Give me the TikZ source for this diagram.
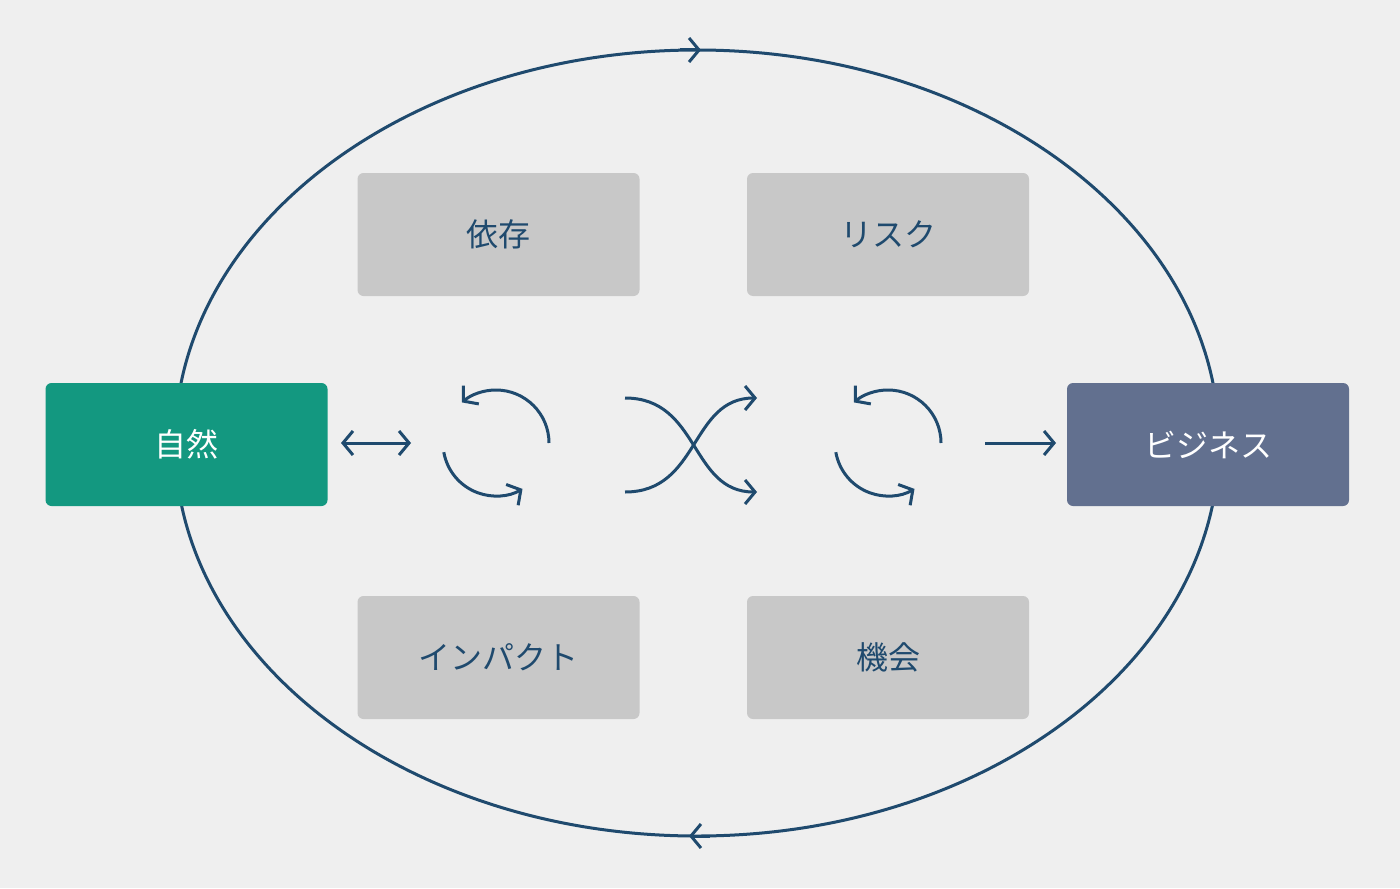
\documentclass[tikz,border=0pt]{standalone}
\usepackage{fontspec}
\setmainfont{Noto Sans CJK JP}
\usetikzlibrary{arrows.meta}
\definecolor{bg}{HTML}{EFEFEF}
\definecolor{ln}{HTML}{1F4A6E}
\definecolor{gbox}{HTML}{C8C8C8}
\definecolor{teal}{HTML}{139880}
\definecolor{slate}{HTML}{62708F}
\begin{document}
\begin{tikzpicture}[x=0.5pt,y=-0.5pt,
  box/.style={rectangle,rounded corners=3pt,minimum width=141pt,minimum height=61.5pt,inner sep=0pt,font=\fontsize{16}{18}\selectfont},
  gb/.style={box,fill=gbox,text=ln},
  line/.style={draw=ln,line width=1.5pt},
  tip/.style={-{Straight Barb[length=5pt,width=12pt]}}]
\fill[bg] (0,0) rectangle (1400,888);
\useasboundingbox (0,0) rectangle (1400,888);
\draw[line] (697,443) ellipse [x radius=522, y radius=393];
\coordinate (t0) at (680,50); \coordinate (t1) at (701,50);
\draw[line,tip] (t0) -- (t1);
\coordinate (b0) at (710,836); \coordinate (b1) at (689,836);
\draw[line,tip] (b0) -- (b1);
\node[box,fill=teal,text=white] (n) at (186.5,444.5) {自然};
\node[box,fill=slate,text=white] (b) at (1208,444.5) {ビジネス};
\node[gb] (d) at (498.5,234.5) {依存};
\node[gb] (r) at (888,234.5) {リスク};
\node[gb] (i) at (498.5,657.5) {インパクト};
\node[gb] (o) at (888,657.5) {機会};
\coordinate (a0) at (341,443); \coordinate (a1) at (411,443);
\draw[line,{Straight Barb[length=5pt,width=12pt]}-{Straight Barb[length=5pt,width=12pt]}] (a0) -- (a1);
\coordinate (c0) at (985,443); \coordinate (c1) at (1056,443);
\draw[line,tip] (c0) -- (c1);
\foreach \cx/\nm in {496/L,888/R}{
  \coordinate (\nm s1) at (\cx+53,443);
  \draw[line,tip] (\nm s1) arc[start angle=0,end angle=-130,radius=53];
  \coordinate (\nm s2) at ({\cx+53*cos(190)},{443-53*sin(190)});
  \draw[line,tip] (\nm s2) arc[start angle=-190,end angle=-300,radius=53];
}
\coordinate (x0) at (625,398); \coordinate (x1) at (757,492);
\coordinate (y0) at (625,492); \coordinate (y1) at (757,398);
\draw[line,tip] (x0) .. controls (700,398) and (690,492) .. (x1);
\draw[line,tip] (y0) .. controls (700,492) and (690,398) .. (y1);
\end{tikzpicture}
\end{document}
